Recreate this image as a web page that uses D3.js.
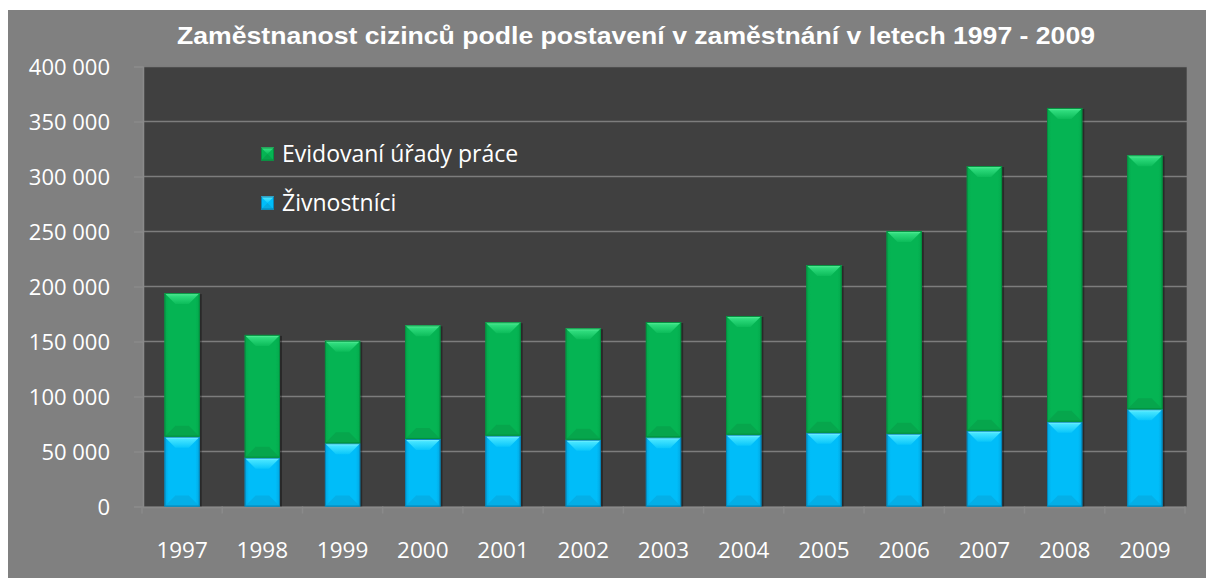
<!DOCTYPE html>
<html><head><meta charset="utf-8">
<script src="https://cdn.jsdelivr.net/npm/d3@7"></script>
<style>html,body{margin:0;padding:0;background:#fff;}svg{display:block;}</style>
</head><body>
<svg id="c" width="1206" height="578"></svg>
<script>
const years = ["1997","1998","1999","2000","2001","2002","2003","2004","2005","2006","2007","2008","2009"];
const zivnostnici = [63500, 44400, 57500, 61400, 64400, 60700, 62900, 65300, 67100, 66200, 68900, 77100, 88400];
const evidovani = [130500, 111600, 93200, 103300, 103100, 101300, 104800, 107900, 152400, 184300, 240600, 285200, 230900];
const yTicks = [0, 50000, 100000, 150000, 200000, 250000, 300000, 350000, 400000];
const seriesNames = ["Evidovaní úřady práce", "Živnostníci"];
const titleText = "Zaměstnanost cizinců podle postavení v zaměstnání v letech 1997 - 2009";

const svg = d3.select("#c");
const W = 1206, H = 578;
const plot = {l: 142, r: 1185, t: 66.5, b: 506.5};

svg.append("rect").attr("x", 8).attr("y", 10).attr("width", W - 8).attr("height", H - 10).attr("fill", "#808080");
svg.append("rect").attr("x", plot.l + 1.3).attr("y", plot.t).attr("width", plot.r - plot.l + 0.4).attr("height", plot.b - plot.t).attr("fill", "#404040");

const x = d3.scaleBand().domain(years).range([plot.l, plot.r]).paddingInner(0).paddingOuter(0);
const y = d3.scaleLinear().domain([0, 400000]).range([plot.b, plot.t]);

const loc = d3.formatLocale({decimal: ",", thousands: " ", grouping: [3], currency: ["", ""]});
const fmt = loc.format(",d");

// gridlines
svg.append("g").selectAll("line").data(yTicks.filter(d => d > 0)).join("line")
  .attr("x1", plot.l + 1).attr("x2", plot.r + 2)
  .attr("y1", d => y(d)).attr("y2", d => y(d))
  .attr("stroke", "#7d7d7d").attr("stroke-width", 1.6);

// y axis
const yAxis = svg.append("g").attr("transform", `translate(${plot.l + 1},0)`)
  .call(d3.axisLeft(y).tickValues(yTicks).tickFormat(fmt).tickSize(9).tickPadding(24));
yAxis.select(".domain").attr("stroke", "#8a8a8a").attr("stroke-width", 1.5);
yAxis.selectAll(".tick line").attr("stroke", "#8a8a8a").attr("stroke-width", 1.5);
yAxis.selectAll("text").attr("fill", "#fff").attr("font-family", "'Open Sans', sans-serif").attr("font-size", 22).attr("dy", "0.35em");

// x axis
const xAxis = svg.append("g").attr("transform", `translate(0,${plot.b + 0.5})`)
  .call(d3.axisBottom(x).tickSize(0).tickPadding(35));
xAxis.select(".domain").attr("stroke", "#8a8a8a").attr("stroke-width", 1.5);
xAxis.selectAll("text").attr("fill", "#fff").attr("font-family", "'Open Sans', sans-serif").attr("font-size", 22.5);
svg.append("g").selectAll("line").data(years.concat(["end"])).join("line")
  .attr("x1", (d, i) => plot.l + i * x.step()).attr("x2", (d, i) => plot.l + i * x.step())
  .attr("y1", plot.b).attr("y2", plot.b + 7)
  .attr("stroke", "#8a8a8a").attr("stroke-width", 1.5);

// gradients
const defs = svg.append("defs");
function grad(id, stops, vertical) {
  const g = defs.append("linearGradient").attr("id", id)
    .attr("x1", 0).attr("y1", 0).attr("x2", vertical ? 0 : 1).attr("y2", vertical ? 1 : 0);
  stops.forEach(s => g.append("stop").attr("offset", s[0]).attr("stop-color", s[1]));
}
const pal = {
  green: {base: "#05b453", top: ["#6df7a6", "#2fdc7d", "#0cbc5a"], bot: "#06a34b", edge: "#04903f", side: "#04a84c"},
  blue: {base: "#00bdf9", top: ["#9af7ff", "#44e4ff", "#0ac7fb"], bot: "#05abe2", edge: "#0685b8", side: "#02a6e0"}
};
Object.entries(pal).forEach(([k, p]) => {
  grad(k + "Top", [[0, p.top[0]], [0.25, p.top[1]], [1, p.top[2]]], true);
  grad(k + "Side", [[0, p.side], [0.12, p.base], [0.88, p.base], [1, p.side]], false);
});

const bw = x.bandwidth() * 0.44;
const bevel = 11;
const stackData = years.map((yr, i) => ({yr, segs: [
  {key: "blue", y0: 0, y1: zivnostnici[i]},
  {key: "green", y0: zivnostnici[i], y1: zivnostnici[i] + evidovani[i]}
]}));

const barsG = svg.append("g");
// shadows
barsG.selectAll("rect.sh").data(stackData).join("rect").attr("class", "sh")
  .attr("x", d => x(d.yr) + (x.bandwidth() - bw) / 2 + 2)
  .attr("y", d => y(d.segs[1].y1) + 1)
  .attr("width", bw).attr("height", d => y(0) - y(d.segs[1].y1) - 1)
  .attr("fill", "rgba(0,0,0,0.35)");

stackData.forEach(d => {
  const x0 = x(d.yr) + (x.bandwidth() - bw) / 2;
  d.segs.forEach(s => {
    const p = pal[s.key];
    const top = y(s.y1), bot = y(s.y0), h = bot - top;
    const g = barsG.append("g");
    g.append("rect").attr("x", x0).attr("y", top).attr("width", bw).attr("height", h).attr("fill", `url(#${s.key}Side)`);
    g.append("path").attr("d", `M${x0},${top}L${x0 + bw},${top}L${x0 + bw - bevel},${top + bevel}L${x0 + bevel},${top + bevel}Z`)
      .attr("fill", `url(#${s.key}Top)`);
    g.append("path").attr("d", `M${x0},${bot}L${x0 + bw},${bot}L${x0 + bw - bevel},${bot - bevel}L${x0 + bevel},${bot - bevel}Z`)
      .attr("fill", p.bot).attr("opacity", 0.8);
    g.append("rect").attr("x", x0 + 0.5).attr("y", top + 0.5).attr("width", bw - 1).attr("height", h - 1)
      .attr("fill", "none").attr("stroke", p.edge).attr("stroke-width", 1);
  });
});

// legend
const legend = svg.append("g");
const legItems = [{name: seriesNames[0], key: "green", y: 154}, {name: seriesNames[1], key: "blue", y: 203}];
legItems.forEach(it => {
  const p = pal[it.key];
  const lx = 261, s = 13, ly = it.y - 6.5;
  legend.append("rect").attr("x", lx).attr("y", ly).attr("width", s).attr("height", s).attr("fill", p.base);
  legend.append("path").attr("d", `M${lx},${ly}L${lx + s},${ly}L${lx + s / 2},${ly + s / 2}Z`).attr("fill", `url(#${it.key}Top)`);
  legend.append("path").attr("d", `M${lx},${ly + s}L${lx + s},${ly + s}L${lx + s / 2},${ly + s / 2}Z`).attr("fill", p.bot);
  legend.append("rect").attr("x", lx + 0.5).attr("y", ly + 0.5).attr("width", s - 1).attr("height", s - 1).attr("fill", "none").attr("stroke", p.edge);
  legend.append("text").attr("x", 282).attr("y", it.y).attr("dy", "0.35em")
    .attr("fill", "#fff").attr("font-family", "'Open Sans', sans-serif").attr("font-size", 23).text(it.name);
});

// title
svg.append("text").attr("x", 636).attr("y", 44).attr("text-anchor", "middle")
  .attr("fill", "#fff").attr("font-family", "'Liberation Sans', Arial, sans-serif").attr("font-weight", "bold")
  .attr("font-size", 24.5).attr("textLength", 918).attr("lengthAdjust", "spacingAndGlyphs").text(titleText);
</script>
</body></html>
